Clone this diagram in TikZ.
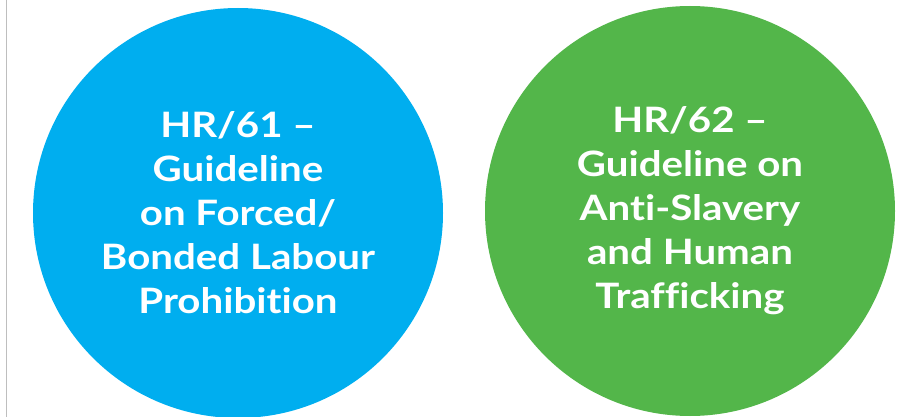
\documentclass[tikz,border=0pt]{standalone}
\usepackage{fontspec}
\setmainfont{Lato}[FakeStretch=1.15, Ligatures=NoCommon]
\usepackage{xcolor}
\usetikzlibrary{positioning}
\definecolor{hrblue}{RGB}{0,174,239}
\definecolor{hrgreen}{RGB}{83,182,74}
\definecolor{rulegray}{RGB}{190,190,190}

\begin{document}
\begin{tikzpicture}[x=1pt, y=1pt,
    guide/.style={circle, fill=#1, draw=none, minimum size=410pt, inner sep=0pt,
      text=white, align=center, font=\fontsize{35}{44}\selectfont\bfseries}]
    \useasboundingbox (0,0) rectangle (911,-417);

    % Left rule
    \coordinate (RuleTop) at (6.5,0);
    \coordinate (RuleBot) at (6.5,-417);
    \draw[rulegray, line width=1.5pt] (RuleTop) -- (RuleBot);

    % Guideline circles
    \node[guide=hrblue] (HR61) at (238,-213)
      {HR/61 --\\Guideline\\on Forced/\\Bonded Labour\\Prohibition};
    \node[guide=hrgreen] (HR62) at (690,-211)
      {HR/62 --\\Guideline on\\Anti-Slavery\\and Human\\Trafficking};
\end{tikzpicture}
\end{document}
